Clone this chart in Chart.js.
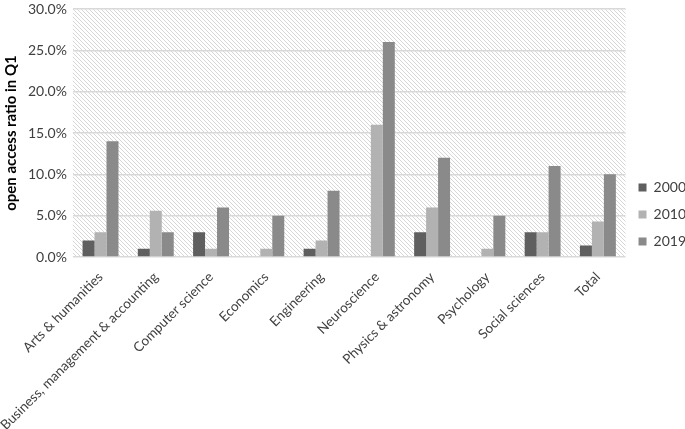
<!DOCTYPE html>
<html>
<head>
<meta charset="utf-8">
<script src="https://cdn.jsdelivr.net/npm/chart.js@4/dist/chart.umd.min.js"></script>
<style>
  html, body { margin: 0; padding: 0; background: #fff; }
  #wrap { width: 685px; height: 429px; }
</style>
</head>
<body>
<div id="wrap"><canvas id="chart"></canvas></div>
<script>
const categories = [
  "Arts & humanities",
  "Business, management & accounting",
  "Computer science",
  "Economics",
  "Engineering",
  "Neuroscience",
  "Physics & astronomy",
  "Psychology",
  "Social sciences",
  "Total",
];
const seriesNames = ["2000", "2010", "2019"];
const values2000 = [2.0, 1.0, 3.0, 0, 1.0, 0, 3.0, 0, 3.0, 1.4];
const values2010 = [3.0, 5.6, 1.0, 1.0, 2.0, 16.0, 6.0, 1.0, 3.0, 4.3];
const values2019 = [14.0, 3.0, 6.0, 5.0, 8.0, 26.0, 12.0, 5.0, 11.0, 10.0];
const seriesColors = ["#5f5f5f", "#b2b2b2", "#8a8a8a"];

// Hatched plot background
function makeHatch() {
  const c = document.createElement("canvas");
  c.width = 4;
  c.height = 4;
  const g = c.getContext("2d");
  g.fillStyle = "#ffffff";
  g.fillRect(0, 0, 4, 4);
  g.strokeStyle = "#d6d6d6";
  g.lineWidth = 1;
  g.beginPath();
  g.moveTo(-1, -1);
  g.lineTo(5, 5);
  g.moveTo(-1, 3);
  g.lineTo(1, 5);
  g.moveTo(3, -1);
  g.lineTo(5, 1);
  g.stroke();
  return c;
}

const hatchPlugin = {
  id: "hatchBg",
  beforeDraw(chart) {
    const { ctx, chartArea } = chart;
    ctx.save();
    ctx.fillStyle = "#ffffff";
    ctx.fillRect(0, 0, chart.width, chart.height);
    ctx.fillStyle = ctx.createPattern(makeHatch(), "repeat");
    ctx.fillRect(
      chartArea.left,
      chartArea.top,
      chartArea.right - chartArea.left,
      chartArea.bottom - chartArea.top,
    );
    ctx.restore();
  },
};

const allValues = [values2000, values2010, values2019];
const font = "Lato, sans-serif";

new Chart(document.getElementById("chart"), {
  type: "bar",
  data: {
    labels: categories,
    datasets: seriesNames.map((name, i) => ({
      label: name,
      data: allValues[i],
      backgroundColor: seriesColors[i],
      borderWidth: 0,
      barPercentage: 1,
      categoryPercentage: 0.65,
    })),
  },
  options: {
    responsive: true,
    maintainAspectRatio: false,
    animation: false,
    layout: {
      padding: { top: 0, right: -11, left: 0, bottom: 0 },
    },
    plugins: {
      legend: {
        position: "right",
        labels: {
          color: "#404040",
          font: { family: font, size: 14 },
          boxWidth: 8,
          boxHeight: 8,
          padding: 13,
        },
      },
      tooltip: { enabled: false },
    },
    scales: {
      x: {
        grid: { display: false },
        border: { display: false },
        afterFit: (scale) => {
          // keep the plot bottom where the reference has it
          scale.height = 172;
          scale.paddingLeft = 0;
          scale.paddingRight = 0;
        },
        ticks: {
          color: "#404040",
          font: { family: font, size: 13.5 },
          minRotation: 45,
          maxRotation: 45,
          autoSkip: false,
          padding: 4,
        },
      },
      y: {
        min: 0,
        max: 30,
        afterFit: (scale) => {
          scale.paddingTop = 9;
          scale.paddingBottom = 0;
        },
        grid: {
          color: "#d9d9d9",
          lineWidth: 1.5,
          drawTicks: false,
        },
        border: { display: false },
        title: {
          display: true,
          text: "open access ratio in Q1",
          color: "#000",
          font: { family: font, size: 15, weight: "bold" },
          padding: 2,
        },
        ticks: {
          stepSize: 5,
          padding: 6,
          color: "#404040",
          font: { family: font, size: 14 },
          callback: (v) => v.toFixed(1) + "%",
        },
      },
    },
  },
  plugins: [hatchPlugin],
});
</script>
</body>
</html>
